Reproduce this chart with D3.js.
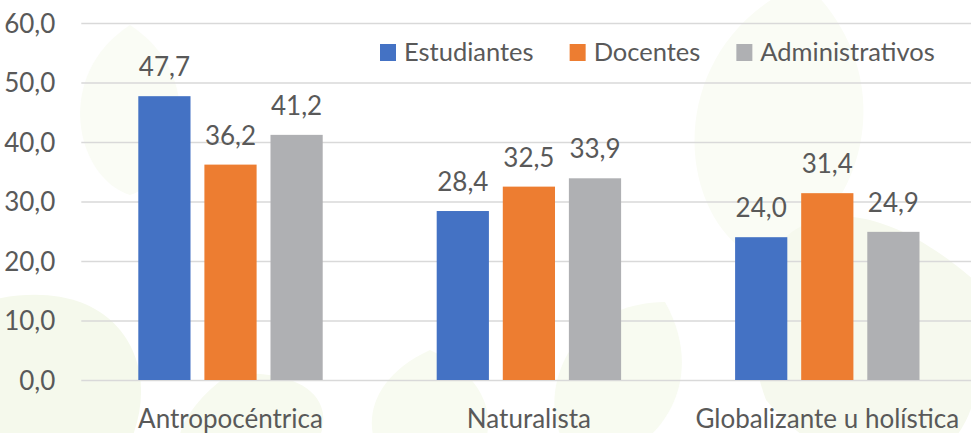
<!DOCTYPE html>
<html>
<head>
<meta charset="utf-8">
<script src="https://cdn.jsdelivr.net/npm/d3@7"></script>
<style>
  html, body { margin: 0; padding: 0; background: #ffffff; }
  svg text { font-family: Lato, "Open Sans", sans-serif; fill: #595959; }
</style>
</head>
<body>
<div id="chart"></div>
<script>
// ---------------------------------------------------------------------------
// DATA
// ---------------------------------------------------------------------------
const categories = ["Antropocéntrica", "Naturalista", "Globalizante u holística"];
const seriesNames = ["Estudiantes", "Docentes", "Administrativos"];
const estudiantes = [47.7, 28.4, 24.0];
const docentes = [36.2, 32.5, 31.4];
const administrativos = [41.2, 33.9, 24.9];
const yTicks = [0, 10, 20, 30, 40, 50, 60];

const seriesValues = [estudiantes, docentes, administrativos];
const colors = ["#4472C4", "#ED7D31", "#AFB0B3"];

// ---------------------------------------------------------------------------
// DIMENSIONS
// ---------------------------------------------------------------------------
const W = 971, H = 433;
const plotLeft = 81.3, plotRight = 976.5;
const plotTop = 23, plotBottom = 380;
const fontSize = 26;

const svg = d3.select('#chart')
    .append('svg')
    .attr('width', W)
    .attr('height', H);

// faint leaf shapes in the background
const bg = svg.append('g').attr('class', 'background');
const leaf = (cx, cy, rx, ry, rot, fill) => {
    bg.append('path')
        .attr('d', `M0,${-ry} C${rx * 1.3},${-ry * 0.4} ${rx * 0.9},${ry * 0.8} 0,${ry} C${-rx * 0.9},${ry * 0.8} ${-rx * 1.3},${-ry * 0.4} 0,${-ry} Z`)
        .attr('transform', `translate(${cx},${cy}) rotate(${rot})`)
        .attr('fill', fill);
};
leaf(130, 110, 60, 85, 0, '#fafcf5');
leaf(780, 120, 100, 140, 10, '#fafcf5');
leaf(40, 390, 120, 110, -40, '#f5f9ec');
leaf(870, 340, 160, 120, 60, '#f6f9ee');
leaf(430, 420, 70, 70, 0, '#f8fbf1');
leaf(250, 430, 90, 60, -20, '#f7faef');
leaf(620, 380, 70, 90, 30, '#f8fbf1');

// ---------------------------------------------------------------------------
// SCALES
// ---------------------------------------------------------------------------
const x0 = d3.scaleBand()
    .domain(categories)
    .range([plotLeft, plotRight])
    .paddingInner(0)
    .paddingOuter(0);

const groupWidth = 184.4;
const x1 = d3.scaleBand()
    .domain(seriesNames)
    .range([0, groupWidth])
    .paddingInner(0.21)
    .paddingOuter(0);

const y = d3.scaleLinear()
    .domain([0, 60])
    .range([plotBottom, plotTop]);

// ---------------------------------------------------------------------------
// GRID + Y AXIS
// ---------------------------------------------------------------------------
const yAxis = d3.axisLeft(y)
    .tickValues(yTicks)
    .tickSize(-(plotRight - plotLeft))
    .tickPadding(26)
    .tickFormat(d => d3.format('.1f')(d).replace('.', ','));

const yg = svg.append('g')
    .attr('class', 'y-axis')
    .attr('transform', `translate(${plotLeft},0)`)
    .call(yAxis);
yg.select('.domain').remove();
yg.selectAll('.tick line')
    .attr('stroke', '#d9d9d9')
    .attr('stroke-width', 1.5);
yg.selectAll('.tick text')
    .attr('fill', '#595959')
    .style('font-size', fontSize + 'px')
    .attr('dy', '0.35em');

// ---------------------------------------------------------------------------
// BARS
// ---------------------------------------------------------------------------
const groups = svg.append('g')
    .selectAll('g')
    .data(categories)
    .join('g')
    .attr('transform', d => `translate(${x0(d) + (x0.bandwidth() - groupWidth) / 2},0)`);

groups.each(function (cat, ci) {
    const g = d3.select(this);
    seriesNames.forEach((s, si) => {
        const v = seriesValues[si][ci];
        g.append('rect')
            .attr('x', x1(s))
            .attr('y', y(v))
            .attr('width', x1.bandwidth())
            .attr('height', y(0) - y(v))
            .attr('fill', colors[si]);
        g.append('text')
            .attr('x', x1(s) + x1.bandwidth() / 2)
            .attr('y', y(v) - 20)
            .attr('text-anchor', 'middle')
            .style('font-size', fontSize + 'px')
            .text(d3.format('.1f')(v).replace('.', ','));
    });
});

// ---------------------------------------------------------------------------
// CATEGORY LABELS
// ---------------------------------------------------------------------------
const xAxis = d3.axisBottom(x0).tickSize(0).tickPadding(0);
const xg = svg.append('g')
    .attr('class', 'x-axis')
    .attr('transform', `translate(0,${plotBottom})`)
    .call(xAxis);
xg.select('.domain').remove();
xg.selectAll('.tick text')
    .attr('fill', '#595959')
    .attr('y', 48)
    .attr('dy', 0)
    .style('font-size', fontSize + 'px');

// ---------------------------------------------------------------------------
// LEGEND
// ---------------------------------------------------------------------------
const legend = svg.append('g')
    .attr('class', 'legend')
    .attr('transform', 'translate(380,0)');

let lx = 0;
seriesNames.forEach((s, i) => {
    legend.append('rect')
        .attr('x', lx)
        .attr('y', 44)
        .attr('width', 16)
        .attr('height', 17)
        .attr('fill', colors[i]);
    const t = legend.append('text')
        .attr('x', lx + 24)
        .attr('y', 61)
        .style('font-size', '25.5px')
        .text(s);
    lx += 24 + t.node().getComputedTextLength() + 36;
});
</script>
</body>
</html>
